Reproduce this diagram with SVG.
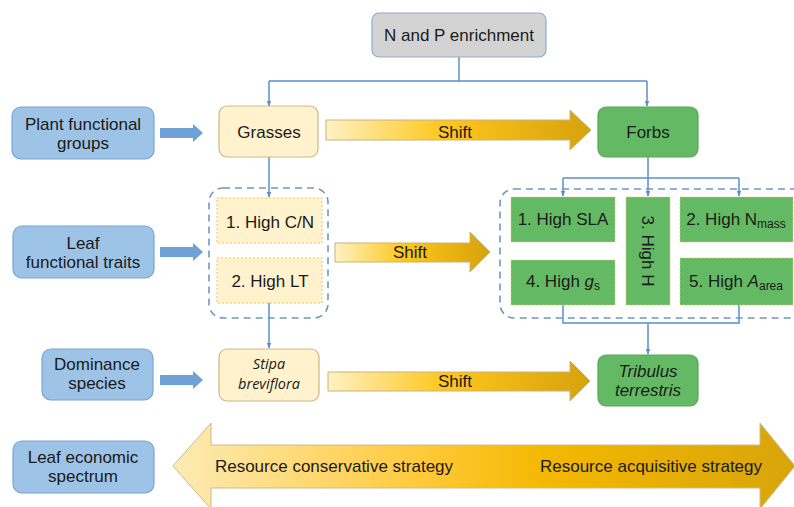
<svg xmlns="http://www.w3.org/2000/svg" width="794" height="507" viewBox="0 0 794 507">
<defs>
<linearGradient id="gShift" x1="0" y1="0" x2="1" y2="0">
<stop offset="0" stop-color="#FFF1C4"/>
<stop offset="0.45" stop-color="#FFC61A"/>
<stop offset="1" stop-color="#D6A20E"/>
</linearGradient>
<linearGradient id="gBig" gradientUnits="userSpaceOnUse" x1="173" y1="0" x2="794" y2="0">
<stop offset="0" stop-color="#FDEBB5"/>
<stop offset="0.4" stop-color="#FFC93A"/>
<stop offset="0.6" stop-color="#F4B800"/>
<stop offset="1" stop-color="#D8A50A"/>
</linearGradient>
<marker id="ah" viewBox="0 0 10 10" refX="9" refY="5" markerWidth="6" markerHeight="6" orient="auto" markerUnits="userSpaceOnUse">
<path d="M0,1 L10,5 L0,9 Z" fill="#5B8FC9"/>
</marker>
</defs>
<style>
text{font-family:"Liberation Sans",Arial,sans-serif;font-size:17px;fill:#1a1a1a;text-anchor:middle}
.blue{fill:#9DC3E6;stroke:#7BA4D2;stroke-width:1.2}
.grey{fill:#D3D3D3;stroke:#8FAAD3;stroke-width:1.2}
.yel{fill:#FFF2CC;stroke:#C9B98A;stroke-width:1.2}
.yeld{fill:#FFF2CC;stroke:#E8C661;stroke-width:1;stroke-dasharray:2 2}
.grn{fill:#64BA64;stroke:#58A65A;stroke-width:1.2}
.grnd{fill:#64BA64;stroke:#D8CF6A;stroke-width:0.8;stroke-dasharray:2 2}
.dash{fill:none;stroke:#6F97C4;stroke-width:1.6;stroke-dasharray:7 5}
.conn{fill:none;stroke:#5B8FC9;stroke-width:1.5}
.barrow{fill:#6FA0D6}
.shift{fill:url(#gShift);stroke:#C8B37A;stroke-width:1}
.it{font-style:italic}
.sub{font-size:12px}
.cal{font-family:"Open Sans","Liberation Sans",sans-serif;font-style:italic;font-size:14.5px}
</style>

<g id="connectors">
<path class="conn" d="M459,57 V81"/>
<path class="conn" d="M269,81 H647"/>
<path class="conn" d="M269,81 V106" marker-end="url(#ah)"/>
<path class="conn" d="M647,81 V106" marker-end="url(#ah)"/>
<path class="conn" d="M269,157 V197" marker-end="url(#ah)"/>
<path class="conn" d="M648,157 V178"/>
<path class="conn" d="M563,178 H739"/>
<path class="conn" d="M563,178 V196" marker-end="url(#ah)"/>
<path class="conn" d="M648,178 V196" marker-end="url(#ah)"/>
<path class="conn" d="M739,178 V196" marker-end="url(#ah)"/>
<path class="conn" d="M269,303 V348" marker-end="url(#ah)"/>
<path class="conn" d="M563,305 V323 H739 V305"/>
<path class="conn" d="M648,323 V354" marker-end="url(#ah)"/>
<path class="barrow" d="M160,128 H193 V124 L203,133 L193,142 V138 H160 Z"/>
<path class="barrow" d="M160,247 H193 V243 L203,252 L193,261 V257 H160 Z"/>
<path class="barrow" d="M160,375 H193 V371 L203,380 L193,389 V385 H160 Z"/>
<path class="shift" d="M326,120 H570 V110 L591,130 L570,150 V140 H326 Z"/>
<path class="shift" d="M335,243 H470 V232 L490,252 L470,272 V262 H335 Z"/>
<path class="shift" d="M328,372 H570 V361 L590,381 L570,401 V391 H328 Z"/>
<path d="M173,466 L211,423 V445 H760 V423 L795,466 L760,509 V488 H211 V509 Z" fill="url(#gBig)" stroke="#C9BB8E" stroke-width="1"/>
</g>

<text x="455" y="138">Shift</text>
<text x="410" y="258">Shift</text>
<text x="455" y="387">Shift</text>
<text x="334" y="472">Resource conservative strategy</text>
<text x="651" y="472">Resource acquisitive strategy</text>

<g id="np">
<rect class="grey" x="372" y="13" width="174" height="44" rx="7"/>
<text x="459" y="41">N  and P enrichment</text>
</g>

<g id="pfg">
<rect class="blue" x="12" y="107" width="142" height="52" rx="9"/>
<text x="83" y="130">Plant functional</text>
<text x="83" y="149">groups</text>
</g>

<g id="grasses">
<rect class="yel" x="219" y="106" width="99" height="51" rx="8"/>
<text x="269" y="138">Grasses</text>
</g>

<g id="forbs">
<rect class="grn" x="598" y="107" width="100" height="50" rx="8"/>
<text x="648" y="138">Forbs</text>
</g>

<g id="lft">
<rect class="blue" x="13" y="226" width="141" height="52" rx="9"/>
<text x="83" y="249">Leaf</text>
<text x="83" y="268">functional traits</text>
</g>

<g id="grass-traits">
<rect class="dash" x="209" y="188" width="119" height="130" rx="14"/>
<rect class="yeld" x="217" y="198" width="105" height="45"/>
<text x="270" y="228">1. High C/N</text>
<rect class="yeld" x="217" y="258" width="105" height="45"/>
<text x="270" y="287">2. High LT</text>
</g>

<g id="forb-traits">
<rect class="dash" x="500" y="189" width="310" height="129" rx="14"/>
<rect class="grnd" x="511" y="197" width="104" height="45"/>
<text x="563" y="225">1. High SLA</text>
<rect class="grnd" x="626" y="197" width="44" height="108"/>
<text transform="translate(642,251) rotate(90)">3. High H</text>
<rect class="grnd" x="680" y="197" width="113" height="45"/>
<text x="736" y="225">2. High N<tspan class="sub" dy="3">mass</tspan></text>
<rect class="grnd" x="511" y="260" width="104" height="45"/>
<text x="563" y="287">4. High <tspan class="it">g</tspan><tspan class="sub" dy="3">s</tspan></text>
<rect class="grnd" x="680" y="258" width="113" height="47"/>
<text x="736" y="287">5. High <tspan class="it">A</tspan><tspan class="sub" dy="3">area</tspan></text>
</g>

<g id="dom">
<rect class="blue" x="42" y="349" width="111" height="51" rx="9"/>
<text x="97" y="370">Dominance</text>
<text x="97" y="389">species</text>
</g>

<g id="stipa">
<rect class="yel" x="219" y="349" width="100" height="52" rx="8"/>
<text class="cal" x="269" y="369">Stipa</text>
<text class="cal" x="269" y="389">breviflora</text>
</g>

<g id="tribulus">
<rect class="grn" x="598" y="355" width="100" height="51" rx="8"/>
<text class="it" x="648" y="377">Tribulus</text>
<text class="it" x="648" y="396">terrestris</text>
</g>

<g id="les">
<rect class="blue" x="13" y="441" width="141" height="52" rx="9"/>
<text x="83" y="463">Leaf economic</text>
<text x="83" y="482">spectrum</text>
</g>
</svg>
